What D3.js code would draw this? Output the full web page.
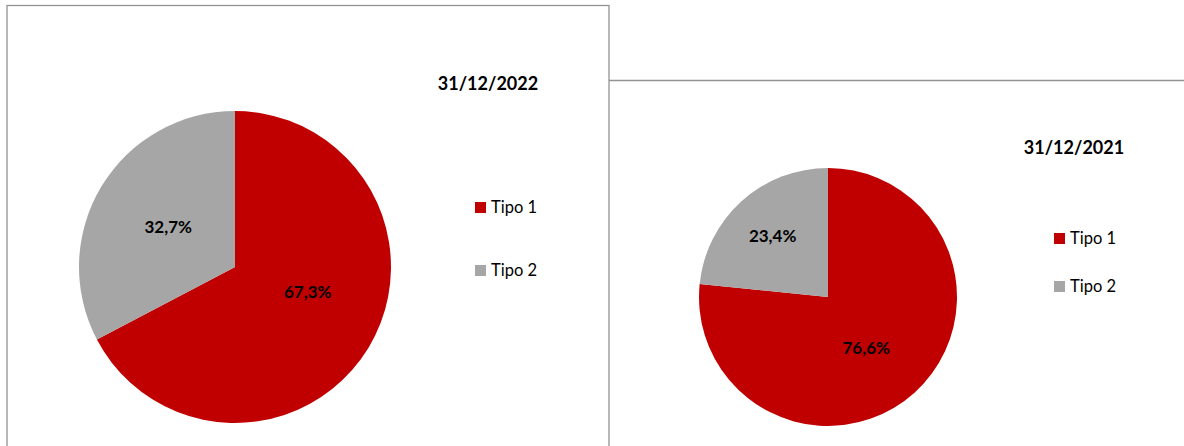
<!DOCTYPE html>
<html>
<head>
<meta charset="utf-8">
<script src="https://cdn.jsdelivr.net/npm/d3@7"></script>
<style>
  body { margin: 0; background: #fff; }
  svg text { font-family: Lato, "Open Sans", sans-serif; }
</style>
</head>
<body>
<div id="chart"></div>
<script>
// Data
const categories = ["Tipo 1", "Tipo 2"];
const dates = ["31/12/2022", "31/12/2021"];
const values2022 = [67.3, 32.7];
const values2021 = [76.6, 23.4];

const colors = ["#C00000", "#A6A6A6"];

const svgWidth = 1184;
const svgHeight = 446;

const svg = d3.select("#chart")
    .append("svg")
    .attr("width", svgWidth)
    .attr("height", svgHeight);

// chart frames
svg.append("rect")
    .attr("x", 7).attr("y", 5.5)
    .attr("width", 602).attr("height", 460)
    .attr("fill", "none")
    .attr("stroke", "#939393")
    .attr("stroke-width", 1.3);

svg.append("line")
    .attr("x1", 609).attr("x2", 1184)
    .attr("y1", 80.5).attr("y2", 80.5)
    .attr("stroke", "#939393")
    .attr("stroke-width", 1.3);

// chart layouts
const charts = [
    { title: dates[0], values: values2022, cx: 235, cy: 267, r: 156,
      titleX: 488, titleY: 90, legendX: 475, legendY: [202, 265],
      labelR: [0.5, 0.5], labelShift: [[6, -15], [0, 0]] },
    { title: dates[1], values: values2021, cx: 828, cy: 297, r: 129,
      titleX: 1074, titleY: 154, legendX: 1054, legendY: [233, 281],
      labelR: [0.5, 0.64], labelShift: [[-5, 3], [0, 0]] }
];

const pie = d3.pie().sort(null).value(d => d);

charts.forEach(function(c) {
    const g = svg.append("g")
        .attr("transform", `translate(${c.cx}, ${c.cy})`);

    const arc = d3.arc().innerRadius(0).outerRadius(c.r);
    const arcs = pie(c.values);

    g.selectAll("path")
        .data(arcs)
        .enter()
        .append("path")
        .attr("d", arc)
        .attr("fill", (d, i) => colors[i]);

    // slice labels
    g.selectAll("text.lbl")
        .data(arcs)
        .enter()
        .append("text")
        .attr("class", "lbl")
        .attr("transform", function(d, i) {
            const lr = c.r * c.labelR[i];
            const p = d3.arc().innerRadius(lr).outerRadius(lr).centroid(d);
            return `translate(${p[0] + c.labelShift[i][0]}, ${p[1] + c.labelShift[i][1]})`;
        })
        .attr("text-anchor", "middle")
        .attr("dy", "0.36em")
        .attr("font-size", 17)
        .attr("font-weight", "bold")
        .attr("fill", "#000")
        .text(d => d3.format(".1f")(d.data).replace(".", ",") + "%");

    // title
    svg.append("text")
        .attr("x", c.titleX)
        .attr("y", c.titleY)
        .attr("text-anchor", "middle")
        .attr("font-size", 18)
        .attr("font-weight", "bold")
        .attr("fill", "#000")
        .text(c.title);

    // legend
    const legend = svg.selectAll(null)
        .data(categories)
        .enter()
        .append("g")
        .attr("transform", (d, i) => `translate(${c.legendX}, ${c.legendY[i]})`);

    legend.append("rect")
        .attr("width", 11)
        .attr("height", 11)
        .attr("fill", (d, i) => colors[i]);

    legend.append("text")
        .attr("x", 16)
        .attr("y", 11)
        .attr("font-size", 16.5)
        .attr("fill", "#000")
        .text(d => d);
});
</script>
</body>
</html>
